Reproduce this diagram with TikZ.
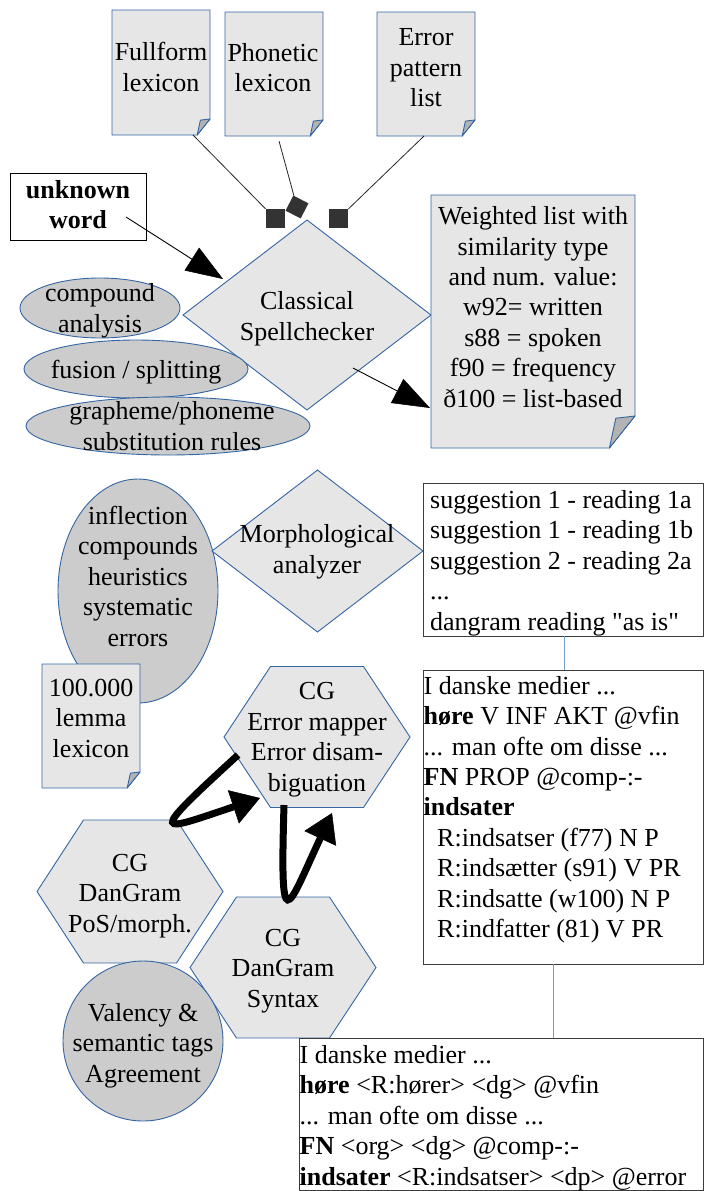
\documentclass[tikz,border=0pt]{standalone}
\usepackage{fontspec}
\setmainfont{Liberation Serif}[Ligatures=TeXOff]
\usetikzlibrary{shapes.geometric,arrows.meta}
\definecolor{shapeblue}{HTML}{3465A4}
\definecolor{lightgrey}{HTML}{E6E6E6}
\definecolor{midgrey}{HTML}{CCCCCC}
\definecolor{foldgrey}{HTML}{B3B3B3}
\definecolor{linkblue}{HTML}{729FCF}
\definecolor{boxline}{HTML}{3C3C3C}
\definecolor{sqgrey}{HTML}{333333}
\newcommand\docpage[2]{%
  \filldraw[docline] (#1.north west) -- (#1.north east) -- ([yshift=#2pt]#1.south east)
    -- ([xshift={-0.8*#2pt}]#1.south east) -- (#1.south west) -- cycle;
  \filldraw[foldline] ([yshift=#2pt]#1.south east) -- ([xshift={-0.6*#2pt},yshift={0.93*#2pt}]#1.south east)
    -- ([xshift={-0.8*#2pt}]#1.south east) -- cycle;}
\newcommand\hexagonat[1]{%
  \filldraw[hexline] (#1.west) -- ([xshift=-46.5pt]#1.north) -- ([xshift=46.5pt]#1.north)
    -- (#1.east) -- ([xshift=46.5pt]#1.south) -- ([xshift=-46.5pt]#1.south) -- cycle;}
\begin{document}
\begin{tikzpicture}[x=1pt,y=-1pt,
  txt/.style={font=\fontsize{26}{30.4}\selectfont, inner sep=0pt, align=center, anchor=base},
  boldtxt/.style={txt, font=\fontsize{26}{30.4}\selectfont\bfseries},
  ltxt/.style={txt, align=left, anchor=base west},
  holder/.style={inner sep=0pt, outer sep=0pt, rectangle},
  docline/.style={draw=shapeblue, fill=lightgrey, line width=0.9pt, line join=round},
  foldline/.style={draw=shapeblue, fill=foldgrey, line width=0.9pt, line join=round},
  hexline/.style={draw=shapeblue, fill=lightgrey, line width=0.9pt},
  dia/.style={diamond, draw=shapeblue, fill=lightgrey, line width=0.9pt, inner sep=0pt, outer sep=0pt},
  ell/.style={ellipse, draw=shapeblue, fill=midgrey, line width=0.9pt, inner sep=0pt, outer sep=0pt},
  tbox/.style={rectangle, draw=boxline, fill=white, line width=0.9pt, inner sep=0pt, outer sep=0pt},
  sqr/.style={rectangle, fill=sqgrey, inner sep=0pt, minimum size=19pt},
  conn/.style={draw=black!85, line width=0.8pt},
  bluelink/.style={draw=linkblue, line width=1pt},
  bigarrow/.style={line width=0.9pt, -{Triangle[length=37pt 0 1, width=27pt 0 1, line width=0.5pt 0 1]}},
  thickarrow/.style={line width=7pt, -{Triangle[length=28pt 0 1, width=35pt 0 1, line width=0.5pt 0 1]}}]
\useasboundingbox (0,0) rectangle (704,1191);

% lexicon documents (text nodes anchored on the baseline of their last line)
\node[holder, minimum width=98pt, minimum height=125pt] (full) at (161,72.5) {};
\node[holder, minimum width=98pt, minimum height=124pt] (phon) at (274,74) {};
\node[holder, minimum width=98pt, minimum height=124pt] (err) at (426,74) {};
\docpage{full}{16}
\docpage{phon}{16}
\docpage{err}{16}
\node[txt] (fullT) at (161,91) {Fullform\\lexicon};
\node[txt] (phonT) at (273,91.5) {Phonetic\\lexicon};
\node[txt] (errT) at (426,106.5) {Error\\pattern\\list};

% square markers
\node[sqr] (sq1) at (275,218.5) {};
\node[sqr, minimum size=17pt, rotate=-27] (sq2) at (297,207) {};
\node[sqr] (sq3) at (338.5,218.5) {};
\draw[conn] ([xshift=32pt]full.south) -- (sq1);
\draw[conn] ([xshift=5pt,yshift=-5pt]phon.south) -- (sq2);
\draw[conn] ([xshift=-2pt]err.south) -- (sq3);

% unknown word
\node[tbox, draw=black, minimum width=136pt, minimum height=67pt] (uw) at (78,206.5) {};
\node[boldtxt] (uwT) at (78,228.5) {unknown\\word};

% classical spellchecker
\node[dia, minimum width=248pt, minimum height=190pt] (spell) at (307,315) {};
\node[txt] (spellT) at (307,340) {Classical\\Spellchecker};

% ellipses
\node[ell, minimum width=160pt, minimum height=60pt] (comp) at (100,308) {};
\node[ell, minimum width=224pt, minimum height=58pt] (fus) at (136,369) {};
\node[ell, minimum width=284pt, minimum height=58pt] (graph) at (168,426) {};
\node[txt] (compT) at (100,332) {compound\\analysis};
\node[txt] (fusT) at (136,378) {fusion / splitting};
\node[txt] (graphT) at (172,450) {grapheme/phoneme\\substitution rules};

% weighted list
\node[holder, minimum width=204pt, minimum height=253pt] (wl) at (533,321.5) {};
\docpage{wl}{32}
\node[txt] (wlT) at (533,407) {Weighted list with\\similarity type\\and num. value:\\w92= written\\s88 = spoken\\f90 = frequency\\ð100 = list-based};

% arrows
\coordinate (uwS) at (126,217);
\coordinate (spellIn) at (223,279);
\draw[bigarrow] (uwS) -- (spellIn);
\coordinate (spellS) at (353,368);
\coordinate (wlIn) at (430,408);
\draw[bigarrow] (spellS) -- (wlIn);

% morphology
\node[ell, minimum width=160pt, minimum height=224pt] (infl) at (138,591) {};
\node[txt] (inflT) at (138,646) {inflection\\compounds\\heuristics\\systematic\\errors};
\node[holder, minimum width=98pt, minimum height=124pt] (lem) at (91,726) {};
\docpage{lem}{16}
\node[txt] (lemT) at (91,757) {100.000\\lemma\\lexicon};
\node[dia, minimum width=211pt, minimum height=162pt] (morph) at (317.5,551) {};
\node[txt] (morphT) at (317,573) {Morphological\\analyzer};

% text boxes
\node[tbox, minimum width=280pt, minimum height=153pt] (sugg) at (563,559.5) {};
\node[ltxt] (suggT) at (430,630) {suggestion 1 - reading 1a\\suggestion 1 - reading 1b\\suggestion 2 - reading 2a\\...\\dangram reading "as is"};
\node[tbox, minimum width=280pt, minimum height=294pt] (cgin) at (563,817) {};
\node[ltxt] (cginT) at (423.5,937.5) {I danske medier ...\\\textbf{høre} V INF AKT @vfin\\... man ofte om disse ...\\\textbf{FN} PROP @comp-:-\\\textbf{indsater}\\\hspace*{13.5pt}R:indsatser (f77) N P\\\hspace*{13.5pt}R:indsætter (s91) V PR\\\hspace*{13.5pt}R:indsatte (w100) N P\\\hspace*{13.5pt}R:indfatter (81) V PR};
\draw[bluelink] ([xshift=1pt]sugg.south) -- ([xshift=1pt]cgin.north);

% CG modules
\node[holder, minimum width=186pt, minimum height=143pt] (pos) at (130,891.5) {};
\hexagonat{pos}
\node[txt] (posT) at (130,932) {CG\\DanGram\\PoS/morph.};
\node[holder, minimum width=186pt, minimum height=141pt] (syn) at (283,967.5) {};
\hexagonat{syn}
\node[txt] (synT) at (283,1007) {CG\\DanGram\\Syntax};
\node[ell, minimum width=160pt, minimum height=160pt] (val) at (143,1041) {};
\node[txt] (valT) at (143,1082) {Valency \&\\semantic tags\\Agreement};
\node[holder, minimum width=186pt, minimum height=141pt] (mapper) at (317,737) {};
\hexagonat{mapper}
\node[txt] (mapperT) at (317,791) {CG\\Error mapper\\Error disam-\\biguation};

% output box
\node[tbox, minimum width=404pt, minimum height=152pt] (out) at (501,1114) {};
\node[ltxt] (outT) at (299.5,1185) {I danske medier ...\\\textbf{høre} <R:hører> <dg> @vfin\\... man ofte om disse ...\\\textbf{FN} <org> <dg> @comp-:-\\\textbf{indsater} <R:indsatser> <dp> @error};
\draw[bluelink] ([xshift=-10pt]cgin.south) -- ([xshift=-10pt]cgin.south |- out.north);

% thick arrows
\coordinate (aS) at (238,755);
\coordinate (aT) at (260,798);
\draw[thickarrow] (aS) .. controls (145,840) and (158,832) .. (aT);
\coordinate (bS) at (284,805);
\coordinate (bT) at (332,813);
\draw[thickarrow] (bS) .. controls (280,940) and (286,912) .. (bT);
\end{tikzpicture}
\end{document}
